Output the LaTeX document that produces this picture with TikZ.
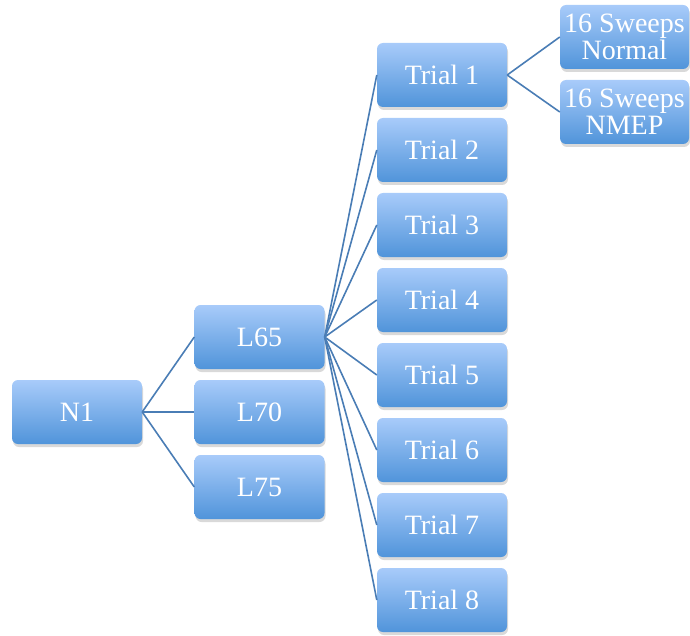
\documentclass[tikz,border=0pt]{standalone}
\usepackage{fontspec}
\setmainfont{Liberation Serif}
\usetikzlibrary{shadows}

\definecolor{boxtop}{HTML}{A8CBFA}
\definecolor{boxbottom}{HTML}{5094DA}
\definecolor{linkblue}{HTML}{4A7DB5}

\tikzset{
  box/.style={rounded corners=6pt, minimum width=130pt, minimum height=64pt, inner sep=0pt,
    top color=boxtop, bottom color=boxbottom, text=white, align=center,
    font=\fontsize{28}{27}\selectfont,
    drop shadow={opacity=0.3, shadow xshift=1pt, shadow yshift=-3pt}},
  link/.style={linkblue, line width=1.6pt}
}

\begin{document}
\begin{tikzpicture}[x=1pt, y=-1pt]
    \useasboundingbox (0, 0) rectangle (690, 636);

    \def\levelx{259.5}
    \def\trialx{442}
    \def\sweepx{624.5}

    % root and levels
    \node[box] (n1) at (77, 412) {N1};
    \node[box] (l65) at (\levelx, 337) {L65};
    \node[box] (l70) at (\levelx, 412) {L70};
    \node[box] (l75) at (\levelx, 487) {L75};

    % trials under L65
    \foreach \k in {1,...,8} {
        \pgfmathsetmacro\trialy{75 + 75 * (\k - 1)}
        \node[box] (trial\k) at (\trialx, \trialy) {Trial \k};
    }

    % sweeps under trial 1
    \node[box, minimum width=129pt] (normal) at (\sweepx, 37) {16 Sweeps\\Normal};
    \node[box, minimum width=129pt] (nmep) at (\sweepx, 112) {16 Sweeps\\NMEP};

    \foreach \lvl in {l65, l70, l75}
        \draw[link] (n1.east) -- (\lvl.west);
    \foreach \k in {1,...,8}
        \draw[link] (l65.east) -- (trial\k.west);
    \draw[link] (trial1.east) -- (normal.west);
    \draw[link] (trial1.east) -- (nmep.west);
\end{tikzpicture}
\end{document}
